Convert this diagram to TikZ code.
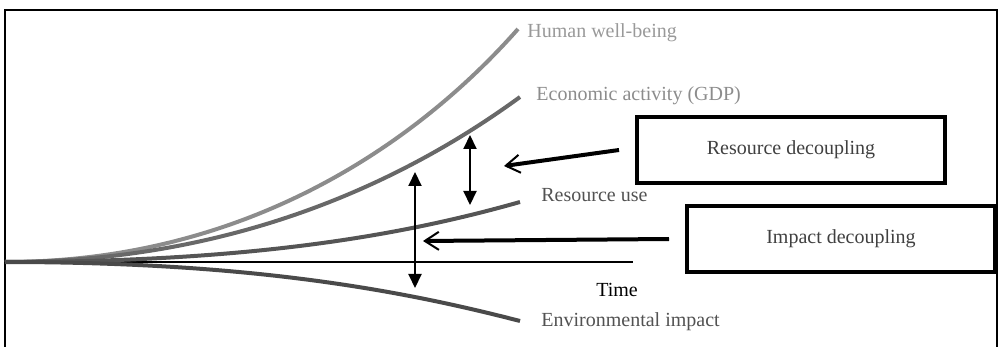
\documentclass[tikz,border=0pt]{standalone}
\usepackage{fontspec}
\setmainfont{Liberation Serif}
\usepackage{tikz}
\usetikzlibrary{arrows.meta, calc}
\usepackage{xcolor}
\definecolor{wellgray}{HTML}{8C8C8C}
\definecolor{gdpgray}{HTML}{686868}
\definecolor{usegray}{HTML}{555555}
\definecolor{impgray}{HTML}{4A4A4A}
\tikzset{
    curve/.style={line width=2pt},
    label/.style={anchor=west, inner sep=0pt, font=\fontsize{10}{12}\selectfont},
    box/.style={draw=black, line width=2pt, minimum width=154pt, minimum height=33pt,
        font=\fontsize{10}{12}\selectfont, text=black!75},
    pointer/.style={line width=2pt, -{Straight Barb[length=7pt, width=9pt, line width=1pt]}},
    gap/.style={line width=1pt, {Triangle[length=7pt, width=6.5pt]}-{Triangle[length=7pt, width=6.5pt]}}
}

\begin{document}
\begin{tikzpicture}[x=0.5pt, y=-0.5pt]
    \useasboundingbox (0,0) rectangle (1001,347);
    % frame, open at the bottom
    \draw[line width=1pt] (5,347) -- (5,10) -- (997,10) -- (997,347);

    \coordinate (o) at (5,262);
    \draw[line width=0.7pt] (o) -- (633,262);
    \node[font=\fontsize{10}{12}\selectfont] (time) at (617,290) {Time};

    % the four trends
    \draw[curve, wellgray] (o) .. controls (250,262) and (420,140) .. (518,29) coordinate (hw);
    \draw[curve, gdpgray] (o) .. controls (250,262) and (420,170) .. (520,97) coordinate (gdp);
    \draw[curve, usegray] (o) .. controls (250,262) and (400,236) .. (520,202) coordinate (ru);
    \draw[curve, impgray] (o) .. controls (250,262) and (400,290) .. (520,321) coordinate (ei);

    \node[label, text=black!40] (hwl) at (527,33) {Human well-being};
    \node[label, text=black!45] (gdpl) at (536,96) {Economic activity (GDP)};
    \node[label, text=black!68] (rul) at (541,195) {Resource use};
    \node[label, text=black!68] (eil) at (541,322) {Environmental impact};

    % decoupling boxes
    \node[box] (resdec) at (791,150) {Resource decoupling};
    \node[box] (impdec) at (841,239) {Impact decoupling};

    \coordinate (rdtip) at (504,166);
    \coordinate (idtip) at (423,241);
    \draw[pointer] ([xshift=-8pt]resdec.west) -- (rdtip);
    \draw[pointer] ([xshift=-8pt]impdec.west) -- (idtip);

    % gaps between the curves
    \coordinate (g1a) at (470,135);
    \coordinate (g1b) at (470,205);
    \coordinate (g2a) at (415,172);
    \coordinate (g2b) at (415,288);
    \draw[gap] (g1a) -- (g1b);
    \draw[gap] (g2a) -- (g2b);
\end{tikzpicture}
\end{document}
